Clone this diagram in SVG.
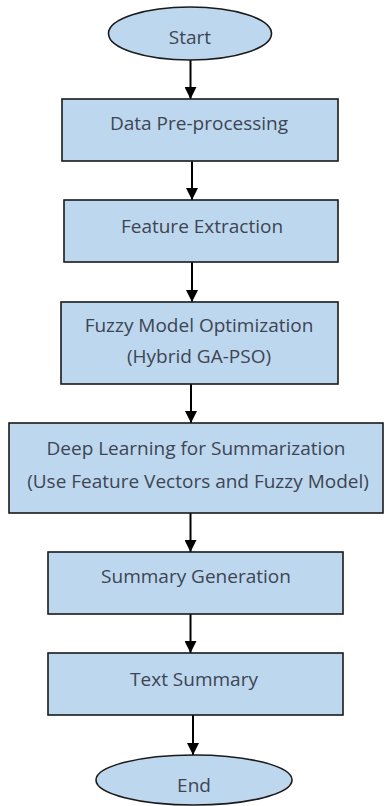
<svg xmlns="http://www.w3.org/2000/svg" width="386" height="806" viewBox="0 0 386 806">
<defs>
<marker id="ah" markerWidth="12" markerHeight="12" viewBox="0 0 12 12" refX="12" refY="6" orient="auto" markerUnits="userSpaceOnUse">
<path d="M0,0 L12,6 L0,12 Z" fill="#000"/>
</marker>
<style>
.n{fill:#BDD7EE;stroke:#1a1a1a;stroke-width:1.6}
.t{font-family:"Open Sans","Noto Sans","DejaVu Sans",sans-serif;font-size:19px;fill:#3e4552;text-anchor:middle}
.c{stroke:#000;stroke-width:2;fill:none;marker-end:url(#ah)}
</style>
</defs>
<rect width="386" height="806" fill="#fff"/>
<g id="connectors">
<line class="c" x1="190.5" y1="60" x2="190.5" y2="99"/>
<line class="c" x1="192" y1="161" x2="192" y2="200"/>
<line class="c" x1="192" y1="262" x2="192" y2="302"/>
<line class="c" x1="191" y1="384" x2="191" y2="423"/>
<line class="c" x1="190.5" y1="513" x2="190.5" y2="552"/>
<line class="c" x1="190.5" y1="614" x2="190.5" y2="653"/>
<line class="c" x1="193" y1="715" x2="193" y2="755"/>
</g>
<g id="start">
<ellipse class="n" cx="190" cy="33.5" rx="81.5" ry="26.5"/>
<text class="t" x="190" y="44">Start</text>
</g>
<g id="preprocessing">
<rect class="n" x="62" y="99" width="276" height="62"/>
<text class="t" x="199" y="130">Data Pre-processing</text>
</g>
<g id="feature">
<rect class="n" x="64" y="200" width="274" height="62"/>
<text class="t" x="202" y="233">Feature Extraction</text>
</g>
<g id="fuzzy">
<rect class="n" x="61" y="302" width="277" height="82"/>
<text class="t" x="199" y="332">Fuzzy Model Optimization</text>
<text class="t" x="199" y="363">(Hybrid GA-PSO)</text>
</g>
<g id="deep">
<rect class="n" x="9" y="423" width="374" height="90"/>
<text class="t" x="196" y="455">Deep Learning for Summarization</text>
<text class="t" x="198" y="488">(Use Feature Vectors and Fuzzy Model)</text>
</g>
<g id="summary">
<rect class="n" x="48" y="552" width="295" height="62"/>
<text class="t" x="196" y="583">Summary Generation</text>
</g>
<g id="textsummary">
<rect class="n" x="48" y="653" width="295" height="62"/>
<text class="t" x="194" y="686">Text Summary</text>
</g>
<g id="end">
<ellipse class="n" cx="194" cy="780" rx="98" ry="25"/>
<text class="t" x="194" y="792">End</text>
</g>
</svg>
